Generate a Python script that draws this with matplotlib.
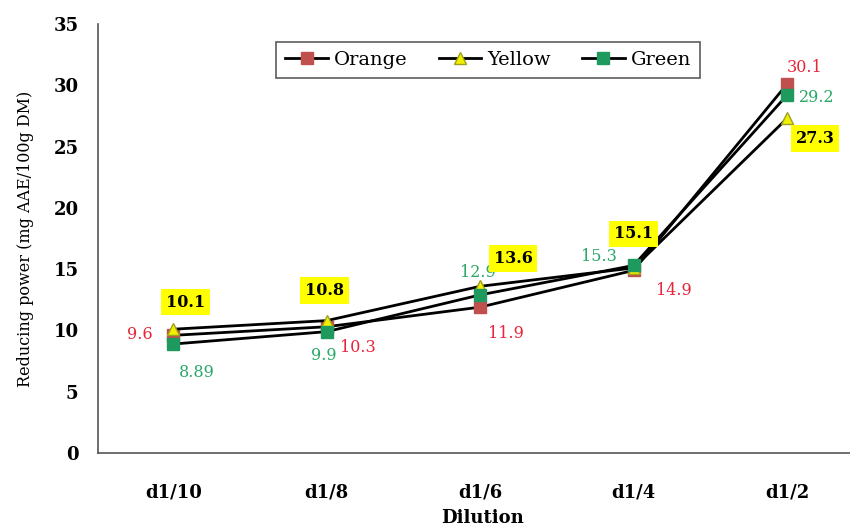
import matplotlib
matplotlib.use("Agg")
import matplotlib.pyplot as plt

dilutions = ["d1/10", "d1/8", "d1/6", "d1/4", "d1/2"]
orange = [9.6, 10.3, 11.9, 14.9, 30.1]
yellow = [10.1, 10.8, 13.6, 15.1, 27.3]
green = [8.89, 9.9, 12.9, 15.3, 29.2]
yticks = [0, 5, 10, 15, 20, 25, 30, 35]

# label offsets in pixels (dx, dy) for each point
orange_off = [(-33, 1), (31, -21), (26, -26), (40, -20), (18, 17)]
yellow_off = [(12, 27), (-2, 30), (33, 28), (0, 34), (28, -20)]
green_off = [(24, -28), (-3, -24), (-2, 22), (-35, 9), (30, -2)]

plt.rcParams['font.family'] = ['DejaVu Serif']

fig = plt.figure(figsize=(8.5, 5.29), dpi=100)
ax = fig.add_axes([98 / 850, 1 - 453 / 529, (850 - 98) / 850, (453 - 24) / 529])

x = list(range(len(dilutions)))
red_txt = "#e8253a"
green_txt = "#2aa868"

ax.plot(x, orange, color="black", lw=2, marker="s", ms=9,
        mfc="#c0504d", mec="#c0504d", label="Orange", zorder=3)
ax.plot(x, yellow, color="black", lw=2, marker="^", ms=9,
        mfc="#f0f000", mec="#a0a020", label="Yellow", zorder=3)
ax.plot(x, green, color="black", lw=2, marker="s", ms=9,
        mfc="#1f9a5e", mec="#1f9a5e", label="Green", zorder=3)

for i in x:
    ax.annotate(f"{orange[i]:g}", (i, orange[i]), xytext=orange_off[i],
                textcoords="offset pixels", ha="center", va="center",
                color=red_txt, fontsize=11.5)
    ax.annotate(f"{green[i]:g}", (i, green[i]), xytext=green_off[i],
                textcoords="offset pixels", ha="center", va="center",
                color=green_txt, fontsize=11.5)
    ax.annotate(f"{yellow[i]:g}", (i, yellow[i]), xytext=yellow_off[i],
                textcoords="offset pixels", ha="center", va="center",
                color="black", fontsize=11.5, fontweight="bold",
                bbox=dict(boxstyle="square,pad=0.3", fc="#ffff00", ec="none"))

ax.set_xlim(-0.49, 4.41)
ax.set_ylim(0, 35)
ax.set_xticks(x)
ax.set_xticklabels(dilutions, fontsize=13, fontweight="bold")
ax.set_yticks(yticks)
ax.set_yticklabels([str(t) for t in yticks], fontsize=13, fontweight="bold")
ax.tick_params(length=0)
ax.tick_params(axis="x", pad=22)
ax.tick_params(axis="y", pad=14)

for s in ["top", "right"]:
    ax.spines[s].set_visible(False)
for s in ["left", "bottom"]:
    ax.spines[s].set_color("#555555")
    ax.spines[s].set_linewidth(1.2)

ax.set_ylabel("Reducing power (mg AAE/100g DM)", fontsize=11.5, labelpad=14)
fig.text(483 / 850, 2 / 529, "Dilution", ha="center", va="bottom",
         fontsize=13, fontweight="bold")

leg = ax.legend(loc="center", ncol=3, fontsize=14,
                frameon=True, fancybox=False, edgecolor="#333333",
                handlelength=2.2, columnspacing=1.6, handletextpad=0.3,
                borderpad=0.45, markerscale=0.9)
leg.set_bbox_to_anchor((488 / 850, 1 - 60 / 529), transform=fig.transFigure)
leg.get_frame().set_linewidth(1.2)

fig.savefig("out.png", dpi=100)
